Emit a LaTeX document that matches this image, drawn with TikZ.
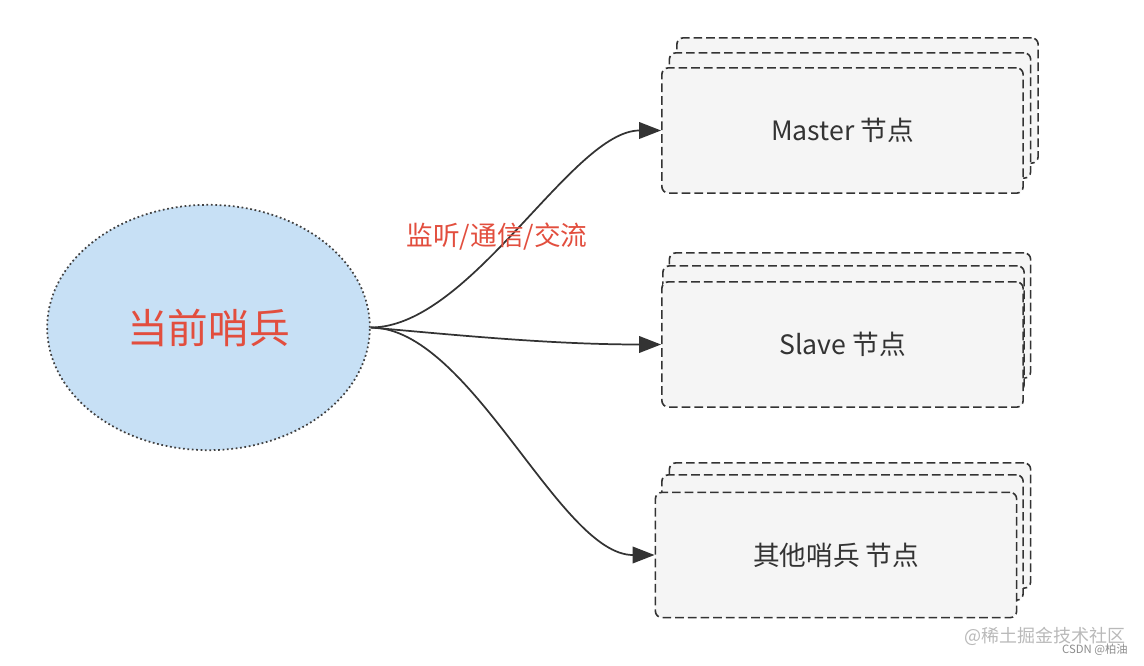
\documentclass[tikz,border=0pt]{standalone}
\usepackage{fontspec}
\setmainfont{Noto Sans CJK SC}
\usepackage{tikz}
\usetikzlibrary{arrows.meta, shapes.geometric, positioning}
\definecolor{sentblue}{RGB}{199, 224, 245}
\definecolor{sentred}{RGB}{226, 78, 62}
\definecolor{cardgray}{RGB}{245, 245, 245}
\definecolor{inkgray}{RGB}{51, 51, 51}
\definecolor{markgray}{RGB}{185, 185, 185}

\begin{document}
\begin{tikzpicture}[x=0.75pt, y=-0.75pt,
    card/.style={draw=inkgray, fill=cardgray, line width=1.2pt,
      dash pattern=on 6.5pt off 3pt, rounded corners=5pt,
      minimum width=271pt, minimum height=94pt, inner sep=0pt,
      text=inkgray, font=\fontsize{20}{22}\selectfont},
    link/.style={draw=inkgray, line width=1.3pt,
      -{Triangle[length=16.5pt, width=12.5pt]}}]
        \useasboundingbox (0,0) rectangle (1144,666);

        % current sentinel (dotted ellipse)
        \node[ellipse, draw=black!75, fill=sentblue, dotted, line width=1.3pt,
          minimum width=242pt, minimum height=184pt, inner sep=0pt,
          text=sentred, font=\fontsize{30.5}{33}\selectfont]
          (sentinel) at (208.5,327.5) {当前哨兵};

        % master nodes (stacked cards)
        \node[card] (master3) at (857.5,100.5) {};
        \node[card] (master2) at (850,115.5) {};
        \node[card] (master) at (842.5,130.5) {Master 节点};

        % slave nodes
        \node[card] (slave3) at (850,315.5) {};
        \node[card] (slave2) at (843.5,328.5) {};
        \node[card] (slave) at (842.5,344.5) {Slave 节点};

        % other sentinel nodes
        \node[card] (other3) at (850,525.5) {};
        \node[card] (other2) at (842.5,537.5) {};
        \node[card] (other) at (836,555) {其他哨兵 节点};

        % connections
        \draw[link] (sentinel.east) .. controls +(100,0) and +(-89,0) .. (master.west);
        \draw[link] (sentinel.east) .. controls +(80,7) and +(-112,0) .. (slave.west);
        \draw[link] (sentinel.east) .. controls +(100,0) and +(-95,0) .. (other.west);
        \node[text=sentred, font=\fontsize{20}{22}\selectfont]
          (talk) at (497,237) {监听/通信/交流};

        % watermark
        \node[text=markgray, font=\fontsize{13.5}{15}\selectfont]
          (mark) at (1045,636) {@稀土掘金技术社区};
        \node[text=black!45, font=\fontsize{8.5}{10}\selectfont]
          (csdn) at (1095,650) {CSDN @柏油};
      \end{tikzpicture}
\end{document}
